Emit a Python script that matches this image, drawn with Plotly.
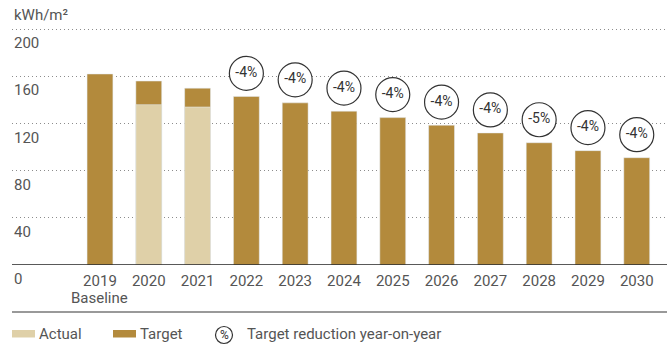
import plotly.graph_objects as go

years = ["2019", "2020", "2021", "2022", "2023", "2024", "2025", "2026", "2027", "2028", "2029", "2030"]
target = [162, 156, 150, 143, 137.5, 130.5, 125, 118.6, 112, 103.7, 97, 91]
actual_years = ["2020", "2021"]
actual = [136, 134]
reduction_years = ["2022", "2023", "2024", "2025", "2026", "2027", "2028", "2029", "2030"]
reduction_labels = ["-4%", "-4%", "-4%", "-4%", "-4%", "-4%", "-5%", "-4%", "-4%"]
y_ticks = [0, 40, 80, 120, 160, 200]
y_tick_labels = ["0", "40", "80", "120", "160", "200"]
baseline_year = "2019"

TARGET_C = "#b38a3c"
ACTUAL_C = "#dfd0a8"
TEXT_C = "#555555"
FONT = "Roboto"

W, H = 672, 345
ML, MR, MT, MB = 12, 5, 28, 80
PW = W - ML - MR
PH = H - MT - MB
Y_MAX = 201


def px_x(px):
    return (px - ML) / PW


def px_y(py):
    return (H - MB - py) / PH


fig = go.Figure()
fig.add_trace(go.Bar(x=years, y=target, marker_color=TARGET_C, width=0.53,
                     showlegend=False, hoverinfo="skip"))
fig.add_trace(go.Bar(x=actual_years, y=actual, marker_color=ACTUAL_C, width=0.53,
                     showlegend=False, hoverinfo="skip"))

# reduction circles above bars
ymap = dict(zip(years, target))
unit_per_px = Y_MAX / PH
circle_y = [ymap[y] + 23 * unit_per_px for y in reduction_years]
fig.add_trace(go.Scatter(
    x=reduction_years, y=circle_y, mode="markers+text",
    text=reduction_labels, textposition="middle center",
    textfont=dict(family=FONT, size=14, color="#333333"),
    marker=dict(symbol="circle", size=34, color="rgba(255,255,255,1)",
                line=dict(color="#333333", width=1.2)),
    cliponaxis=False, showlegend=False, hoverinfo="skip"))

annotations = []
for v, lab in zip(y_ticks, y_tick_labels):
    annotations.append(dict(x=0, xref="paper", y=v, yref="y", text=lab,
                            xanchor="left", yanchor="middle", yshift=-14,
                            showarrow=False,
                            font=dict(family=FONT, size=15, color=TEXT_C)))
annotations.append(dict(x=0, xref="paper", y=px_y(15), yref="paper", text="kWh/m²",
                        xanchor="left", yanchor="middle", showarrow=False,
                        font=dict(family=FONT, size=15, color=TEXT_C)))
annotations.append(dict(x=years.index(baseline_year), xref="x", y=px_y(297.5), yref="paper",
                        text="Baseline", xanchor="center", yanchor="middle", showarrow=False,
                        borderpad=0,
                        font=dict(family=FONT, size=15, color=TEXT_C)))
# legend texts
annotations.append(dict(x=px_x(37), xref="paper", y=px_y(334), yref="paper", text="Actual",
                        xanchor="left", yanchor="middle", showarrow=False,
                        font=dict(family=FONT, size=15, color=TEXT_C)))
annotations.append(dict(x=px_x(138), xref="paper", y=px_y(334), yref="paper", text="Target",
                        xanchor="left", yanchor="middle", showarrow=False,
                        font=dict(family=FONT, size=15, color=TEXT_C)))
annotations.append(dict(x=px_x(224), xref="paper", y=px_y(335), yref="paper", text="%",
                        xanchor="center", yanchor="middle", showarrow=False,
                        font=dict(family=FONT, size=12, color="#333333")))
annotations.append(dict(x=px_x(245), xref="paper", y=px_y(334), yref="paper",
                        text="Target reduction year-on-year",
                        xanchor="left", yanchor="middle", showarrow=False,
                        font=dict(family=FONT, size=15, color=TEXT_C)))

shapes = [
    # baseline
    dict(type="line", xref="paper", yref="y", x0=0, x1=1, y0=0, y1=0,
         line=dict(color="#222222", width=1.5), layer="above"),
    # separator line above legend
    dict(type="line", xref="paper", yref="paper", x0=0, x1=1, y0=px_y(312), y1=px_y(312),
         line=dict(color="#777777", width=1.5)),
    # legend swatches
    dict(type="rect", xref="paper", yref="paper", x0=px_x(12), x1=px_x(35),
         y0=px_y(337.5), y1=px_y(330), fillcolor=ACTUAL_C, line=dict(width=0)),
    dict(type="rect", xref="paper", yref="paper", x0=px_x(113), x1=px_x(136),
         y0=px_y(337.5), y1=px_y(330), fillcolor=TARGET_C, line=dict(width=0)),
    dict(type="circle", xref="paper", yref="paper", xsizemode="pixel", ysizemode="pixel",
         xanchor=px_x(224), yanchor=px_y(335), x0=-8.5, x1=8.5, y0=-8.5, y1=8.5,
         line=dict(color="#333333", width=1.2)),
]

fig.update_layout(
    width=W, height=H,
    margin=dict(l=ML, r=MR, t=MT, b=MB),
    plot_bgcolor="white", paper_bgcolor="white",
    barmode="overlay",
    font=dict(family=FONT, size=15, color=TEXT_C),
    xaxis=dict(type="category", range=[-1.803, 11.62], showgrid=False, zeroline=False,
               showline=False, ticks="", tickfont=dict(family=FONT, size=15, color=TEXT_C),
               ticklabelstandoff=5),
    yaxis=dict(range=[0, Y_MAX], tickvals=y_ticks[1:], showticklabels=False,
               showgrid=True, gridcolor="#8c8c8c", griddash="1px,3px", gridwidth=1.2,
               zeroline=False, showline=False, ticks=""),
    annotations=annotations,
    shapes=shapes,
)

fig.write_html("out.html", config={"displayModeBar": False},
               post_script="document.body.style.margin='0';document.body.style.overflow='hidden';")
